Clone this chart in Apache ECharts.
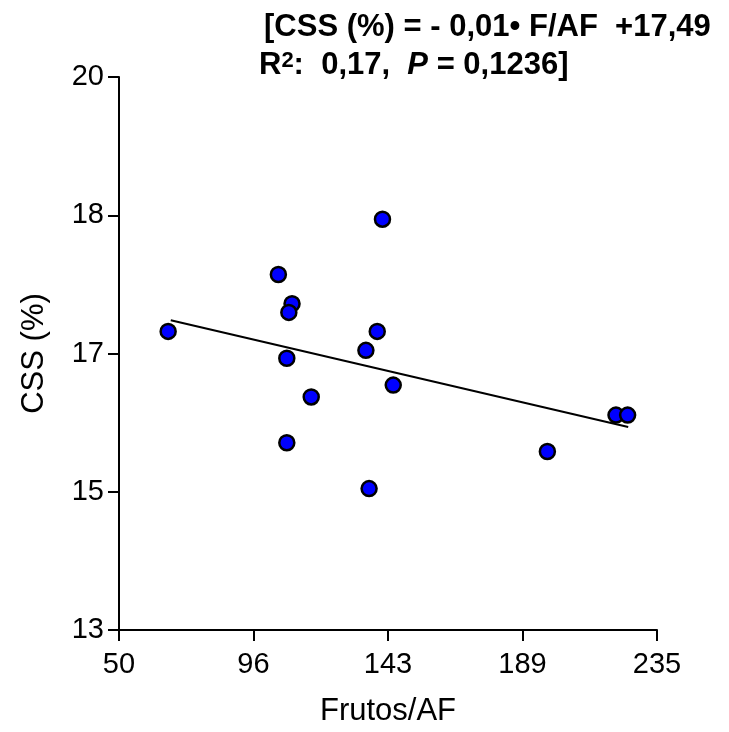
<!DOCTYPE html>
<html>
<head>
<meta charset="utf-8">
<script src="https://cdn.jsdelivr.net/npm/echarts@6/dist/echarts.min.js"></script>
<style>
  html, body { margin: 0; padding: 0; background: #fff; }
  #chart { width: 729px; height: 732px; }
</style>
</head>
<body>
<div id="chart"></div>
<script>
// Frutos/AF vs CSS (%)
const frutosAF = [66.9, 104.8, 109.5, 108.4, 107.7, 116.1, 107.7, 140.6, 138.8, 134.9, 144.3, 136.0, 197.3, 220.9, 224.9]
const css = [16.78, 17.50, 17.13, 17.02, 16.44, 15.95, 15.37, 18.20, 16.78, 16.54, 16.10, 14.79, 15.26, 15.72, 15.72]

// regression line end points
const fitX = [67.8, 225.1]
const fitY = [16.92, 15.57]

const xTickLabels = ['50', '96', '143', '189', '235']
const yTickLabels = ['13', '15', '17', '18', '20']

const font = 'Liberation Sans, Arial, sans-serif'

let myChart = echarts.init(document.getElementById('chart'))

let titleStyle = {
    fontFamily: font,
    fontSize: 31,
    fontWeight: 'bold',
    color: '#000',
    rich: {
        i: {
            fontFamily: font,
            fontSize: 31,
            fontWeight: 'bold',
            fontStyle: 'italic',
            color: '#000'
        },
        sup: {
            fontFamily: font,
            fontSize: 22,
            fontWeight: 'bold',
            color: '#000',
            lineHeight: 26,
            verticalAlign: 'top'
        }
    }
}

let option = {
    animation: false,
    title: [{
        text: '[CSS (%) = - 0,01\u2022 F/AF  +17,49',
        left: 259,
        top: 7,
        textStyle: titleStyle
    }, {
        text: 'R{sup|2}:  0,17,  {i|P} = 0,1236]',
        left: 254,
        top: 45,
        textStyle: titleStyle
    }],
    grid: {
        left: 119,
        right: 72,
        top: 77,
        bottom: 98
    },
    xAxis: {
        type: 'value',
        min: 50,
        max: 235,
        interval: 46.25,
        name: 'Frutos/AF',
        nameLocation: 'middle',
        nameGap: 66,
        nameTextStyle: { fontFamily: font, fontSize: 31, color: '#000' },
        axisLine: { lineStyle: { color: '#000', width: 2 } },
        axisTick: { inside: false, length: 11, lineStyle: { color: '#000', width: 2 } },
        axisLabel: {
            margin: 20,
            fontFamily: font,
            fontSize: 29,
            color: '#000',
            formatter: function(v, i) {
                return xTickLabels[i]
            }
        },
        splitLine: { show: false }
    },
    yAxis: {
        type: 'value',
        min: 13,
        max: 20,
        interval: 1.75,
        name: 'CSS (%)',
        nameLocation: 'middle',
        nameGap: 69,
        nameTextStyle: { fontFamily: font, fontSize: 31, color: '#000' },
        axisLine: { show: true, lineStyle: { color: '#000', width: 2 } },
        axisTick: { show: true, inside: false, length: 11, lineStyle: { color: '#000', width: 2 } },
        axisLabel: {
            margin: 15,
            fontFamily: font,
            fontSize: 29,
            color: '#000',
            formatter: function(v, i) {
                return yTickLabels[i]
            }
        },
        splitLine: { show: false }
    },
    series: [{
        type: 'line',
        data: fitX.map((x, i) => [x, fitY[i]]),
        symbol: 'none',
        lineStyle: { color: '#000', width: 2 },
        z: 1
    }, {
        type: 'scatter',
        data: frutosAF.map((x, i) => [x, css[i]]),
        symbolSize: 15,
        itemStyle: {
            color: '#0000ff',
            borderColor: '#000',
            borderWidth: 2.5,
            opacity: 1
        },
        z: 2
    }]
};
myChart.setOption(option);
</script>
</body>
</html>
